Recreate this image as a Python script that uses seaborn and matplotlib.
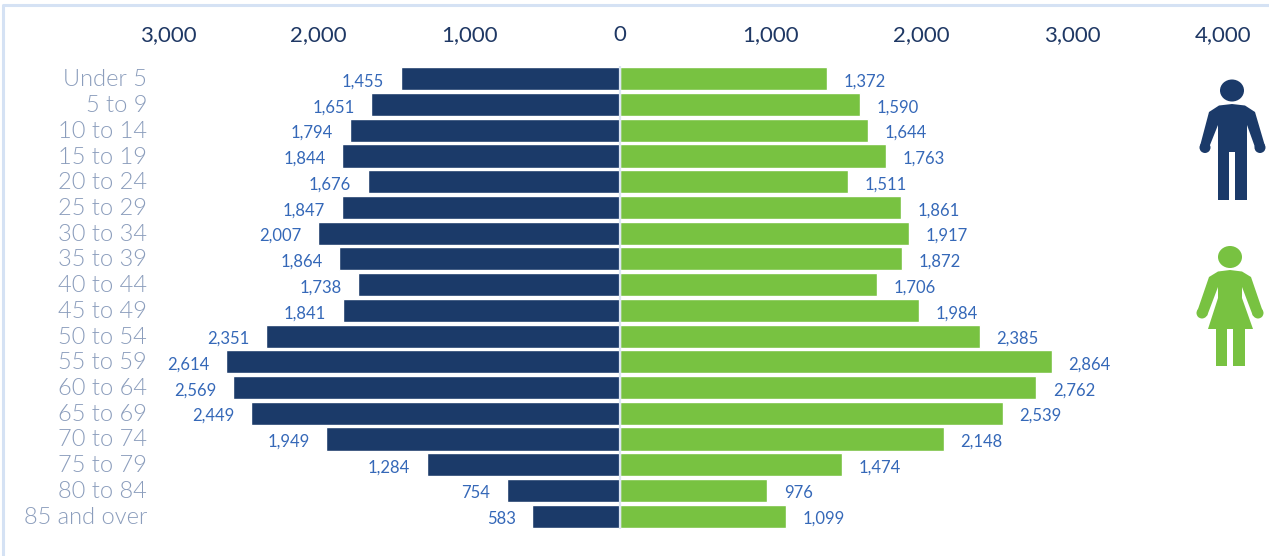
import numpy as np
import pandas as pd
import seaborn as sns
import matplotlib.pyplot as plt
from matplotlib.patches import Ellipse, Polygon, Rectangle, Circle
from matplotlib.ticker import FuncFormatter
from matplotlib.lines import Line2D
from matplotlib.transforms import ScaledTranslation

ages = ['Under 5', '5 to 9', '10 to 14', '15 to 19', '20 to 24', '25 to 29',
        '30 to 34', '35 to 39', '40 to 44', '45 to 49', '50 to 54', '55 to 59',
        '60 to 64', '65 to 69', '70 to 74', '75 to 79', '80 to 84', '85 and over']
male = [1455, 1651, 1794, 1844, 1676, 1847, 2007, 1864, 1738, 1841,
        2351, 2614, 2569, 2449, 1949, 1284, 754, 583]
female = [1372, 1590, 1644, 1763, 1511, 1861, 1917, 1872, 1706, 1984,
          2385, 2864, 2762, 2539, 2148, 1474, 976, 1099]
ticks = [-3000, -2000, -1000, 0, 1000, 2000, 3000, 4000]

NAVY = '#1B3A69'
GREEN = '#78C241'
LABEL = '#3568B8'
W, H = 1269, 556

sns.set_theme(style='white')
plt.rcParams['font.family'] = ['Lato', 'DejaVu Sans']

df = pd.DataFrame({'age': ages, 'male': -np.array(male), 'female': female})

fig = plt.figure(figsize=(W / 100, H / 100), dpi=100)
# axes spans -3000 (px 168) to 4000 (px 1223), rows from px 66 to px 529
ax = fig.add_axes([168 / W, 1 - 529 / H, (1223 - 168) / W, (529 - 66) / H])

sns.barplot(data=df, y='age', x='male', color=NAVY, width=0.9, saturation=1, ax=ax)
sns.barplot(data=df, y='age', x='female', color=GREEN, width=0.9, saturation=1, ax=ax)

ax.set_xlim(-3000, 4000)
ax.set_xticks(ticks)
ax.xaxis.set_major_formatter(FuncFormatter(lambda v, p: f'{abs(int(v)):,}'))
ax.xaxis.tick_top()
ax.tick_params(axis='x', length=0, pad=15, labelsize=16, labelcolor='#1F3864')
ax.tick_params(axis='y', length=0, pad=15, labelcolor='#8B9DBC')
ax.set_xlabel('')
ax.set_ylabel('')
for t in ax.get_yticklabels():
    t.set_family('Lato')
    t.set_weight(300)
    t.set_fontsize(17)
    t.set_transform(t.get_transform() + ScaledTranslation(0, 1 / 100, fig.dpi_scale_trans))
sns.despine(ax=ax, left=True, bottom=True, top=True, right=True)
ax.patch.set_alpha(0)

# pale line along the zero position
ax.axvline(0, color='#DCE6F4', lw=1.6, zorder=5)

for cont in ax.containers:
    txts = ax.bar_label(cont, labels=[f'{abs(int(v)):,}' for v in cont.datavalues],
                        padding=12, fontsize=12, color=LABEL)
    # the value labels sit a little below the bar centre
    for t in txts:
        t.xyann = (t.xyann[0], t.xyann[1] - 2)


# overlay in pixel coordinates for the frame and the icons
ov = fig.add_axes([0, 0, 1, 1])
ov.set_xlim(0, W)
ov.set_ylim(H, 0)
ov.axis('off')
ov.patch.set_alpha(0)
ov.add_line(Line2D([3, 3, W], [H, 5, 5], color='#D5E2F4', lw=2.2))


def man(color):
    ov.add_patch(Ellipse((1232, 90.5), 24, 22, color=color, lw=0))
    ov.add_patch(Polygon([[1232, 104], [1245, 105.5], [1255, 112], [1265, 146], [1256, 150],
                         [1247, 125], [1247, 200], [1235, 200], [1235, 152], [1229, 152],
                         [1229, 200], [1218, 200], [1218, 125], [1208, 150], [1200, 146],
                         [1209, 112], [1219, 105.5]], color=color, lw=0))
    ov.add_patch(Circle((1205, 147.5), 5.5, color=color, lw=0))
    ov.add_patch(Circle((1260, 147.5), 5.5, color=color, lw=0))


def woman(color):
    ov.add_patch(Ellipse((1230, 257), 24, 22, color=color, lw=0))
    ov.add_patch(Polygon([[1230, 270], [1242, 271.5], [1251, 277], [1263, 312], [1253, 316],
                         [1242, 287], [1242, 298], [1253, 329], [1208, 329], [1218, 298],
                         [1218, 287], [1207, 316], [1197, 312], [1209, 277], [1218, 271.5]],
                         color=color, lw=0))
    ov.add_patch(Rectangle((1216, 329), 11, 37, color=color, lw=0))
    ov.add_patch(Rectangle((1233, 329), 12, 37, color=color, lw=0))
    ov.add_patch(Circle((1202, 313), 5.5, color=color, lw=0))
    ov.add_patch(Circle((1258, 313), 5.5, color=color, lw=0))


man(NAVY)
woman(GREEN)

fig.savefig('out.png', dpi=100)
